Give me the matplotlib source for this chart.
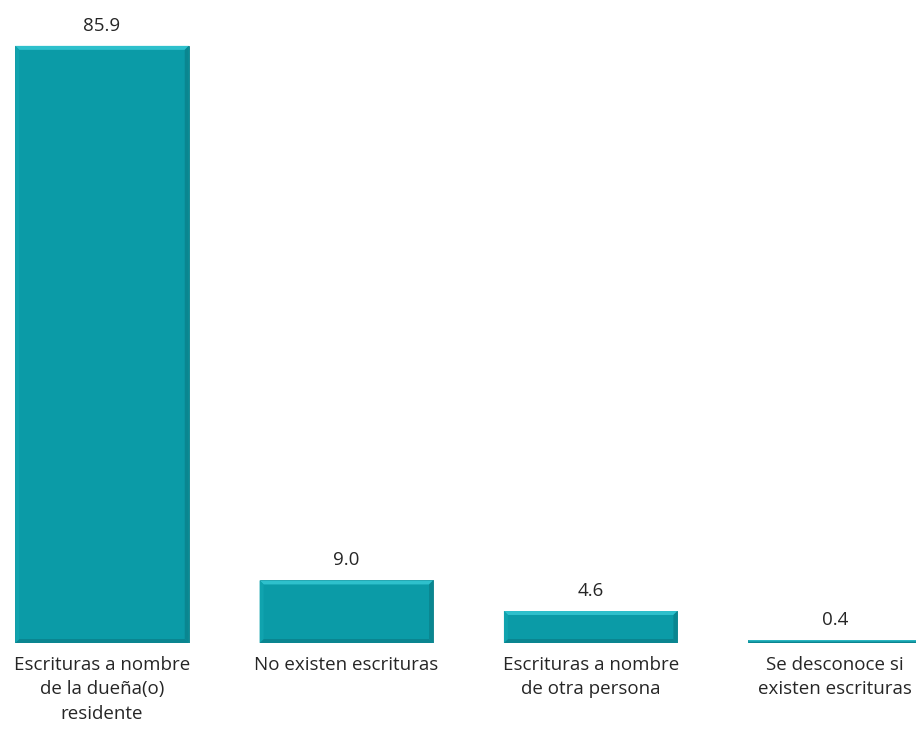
import matplotlib
matplotlib.use("Agg")
import matplotlib.pyplot as plt
from matplotlib.patches import Polygon
from matplotlib.transforms import offset_copy

categories = ["Escrituras a nombre\nde la dueña(o)\nresidente",
              "No existen escrituras",
              "Escrituras a nombre\nde otra persona",
              "Se desconoce si\nexisten escrituras"]
values = [85.9, 9.0, 4.6, 0.4]
labels = ["85.9", "9.0", "4.6", "0.4"]

plt.rcParams['font.family'] = ['Open Sans', 'DejaVu Sans']

fig = plt.figure(figsize=(9.16, 7.40), dpi=100)
ax = fig.add_axes([0, 97 / 740, 1, 643 / 740])
ax.set_xlim(-0.4175, 3.3315)
ax.set_ylim(0, 92.5)
ax.axis("off")

face = "#0b9ba7"
width = 0.71
bars = ax.bar(range(len(values)), values, width=width, color=face,
              edgecolor="#0a7f89", linewidth=0.6, zorder=2)

# bevel edges in pixel units
fig.canvas.draw()
bev = 4
inv = ax.transData.inverted()
for b in bars:
    x0, y0 = ax.transData.transform((b.get_x(), 0))
    x1, y1 = ax.transData.transform((b.get_x() + b.get_width(), b.get_height()))
    d = min(bev, (y1 - y0) / 2)
    top = [(x0, y1), (x1, y1), (x1 - d, y1 - d), (x0 + d, y1 - d)]
    bot = [(x0, y0), (x1, y0), (x1 - d, y0 + d), (x0 + d, y0 + d)]
    right = [(x1, y1), (x1, y0), (x1 - d, y0 + d), (x1 - d, y1 - d)]
    left = [(x0, y1), (x0, y0), (x0 + d, y0 + d), (x0 + d, y1 - d)]
    for poly, col in [(top, "#2ec0cc"), (bot, "#0a8590"),
                      (right, "#0a8690"), (left, "#10a3ae")]:
        ax.add_patch(Polygon(inv.transform(poly), closed=True, facecolor=col,
                             edgecolor="none", zorder=3))

for i, (v, t) in enumerate(zip(values, labels)):
    ax.annotate(t, (i, v), xytext=(0, 8), textcoords="offset points",
                ha="center", va="bottom", fontsize=13.5, color="#262626")
    ax.text(i, 0, categories[i], ha="center", va="top", fontsize=13.5,
            color="#262626", linespacing=1.45,
            transform=offset_copy(ax.transData, fig=fig, y=-13, units="dots"))

fig.savefig("out.png", dpi=100)
